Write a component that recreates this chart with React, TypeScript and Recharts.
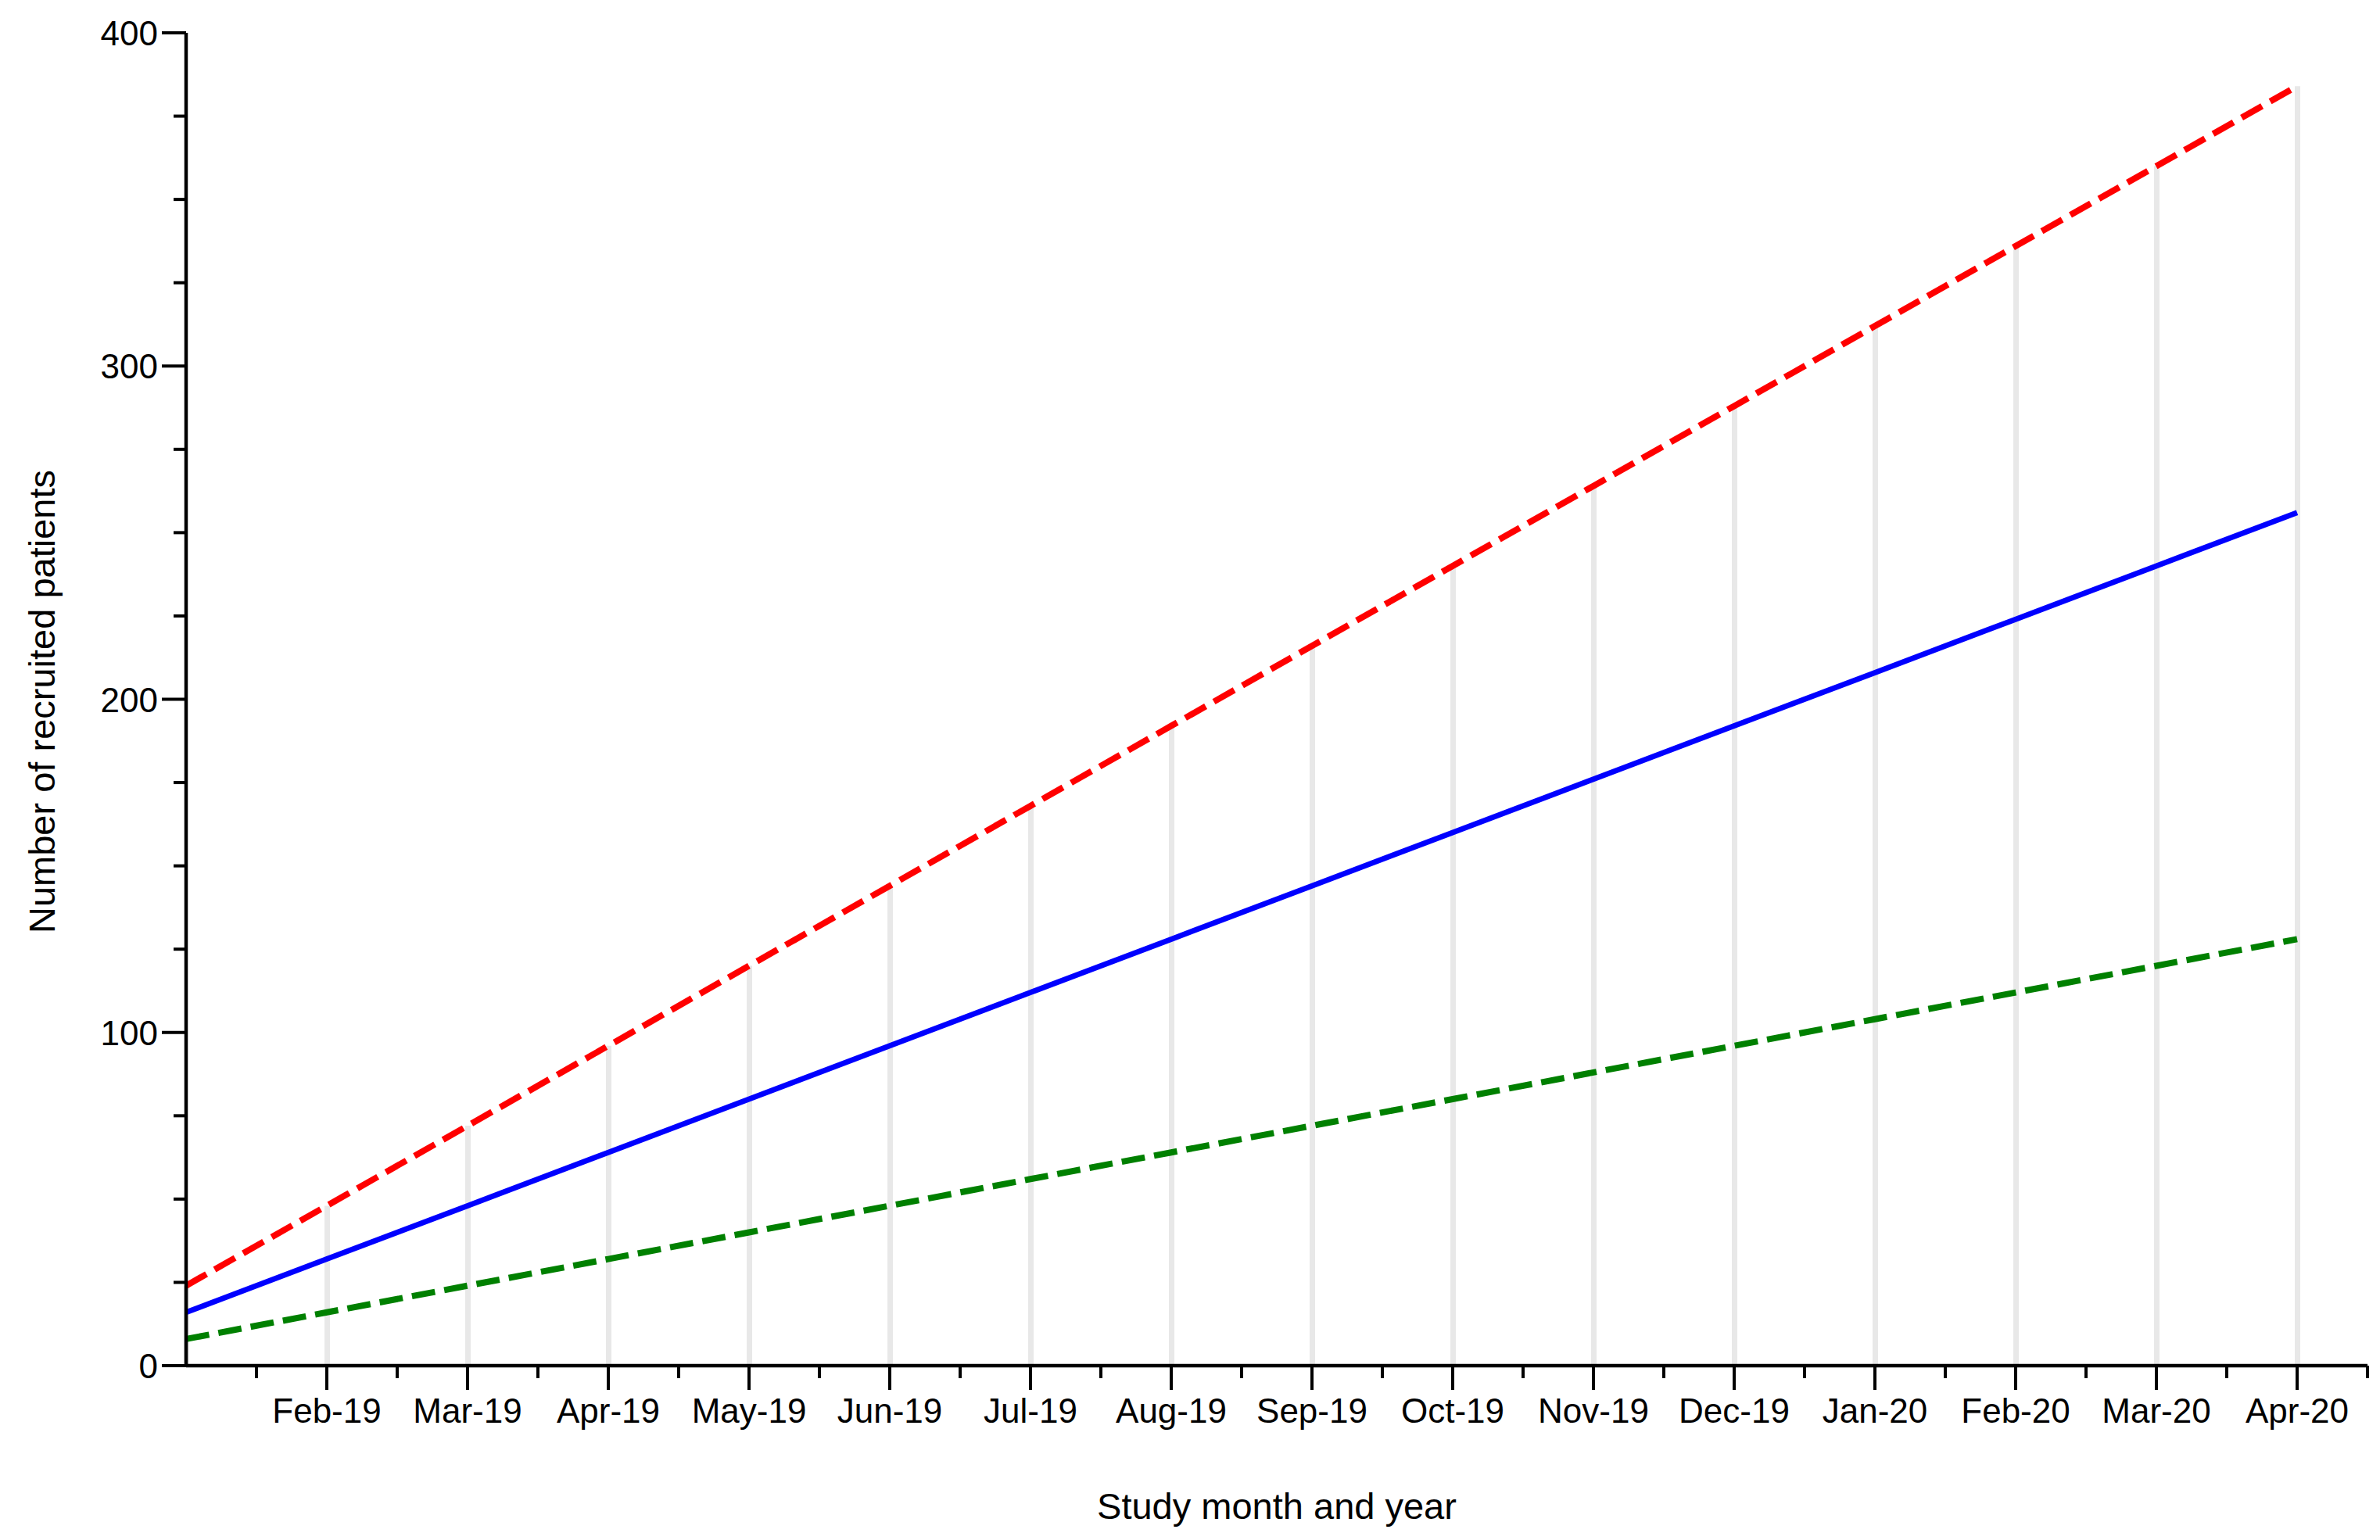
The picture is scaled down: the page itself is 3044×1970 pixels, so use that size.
import React from 'react';
import { ComposedChart, Line, Bar, XAxis, YAxis, Label } from 'recharts';

// month index 0 = Jan-19 (start of recruitment, no label on the axis)
const months = [
  'Jan-19', 'Feb-19', 'Mar-19', 'Apr-19', 'May-19', 'Jun-19', 'Jul-19', 'Aug-19',
  'Sep-19', 'Oct-19', 'Nov-19', 'Dec-19', 'Jan-20', 'Feb-20', 'Mar-20', 'Apr-20',
];
const upper = [24, 48, 72, 96, 120, 144, 168, 192, 216, 240, 264, 288, 312, 336, 360, 384];
const expected = [16, 32, 48, 64, 80, 96, 112, 128, 144, 160, 176, 192, 208, 224, 240, 256];
const lower = [8, 16, 24, 32, 40, 48, 56, 64, 72, 80, 88, 96, 104, 112, 120, 128];
const yTicks = [0, 25, 50, 75, 100, 125, 150, 175, 200, 225, 250, 275, 300, 325, 350, 375, 400];

const data = months.map((label, m) => ({
  m,
  label,
  upper: upper[m],
  expected: expected[m],
  lower: lower[m],
}));

const xTicks = months.flatMap((_, i) => [i, i + 0.5]);

const FONT = '"Liberation Sans", Arial, Helvetica, sans-serif';

const XTick = (props: any) => {
  const { x, y, payload } = props;
  const v = payload.value as number;
  if (v === 0) return null;
  const major = Number.isInteger(v);
  return (
    <g>
      <line x1={x} x2={x} y1={y} y2={y + (major ? 31 : 16)} stroke="#000" strokeWidth={4} />
      {major && (
        <text x={x} y={y + 73} textAnchor="middle" fontSize={44} fontFamily={FONT} fill="#000">
          {months[v]}
        </text>
      )}
    </g>
  );
};

const YTick = (props: any) => {
  const { x, y, payload } = props;
  const v = payload.value as number;
  const major = v % 100 === 0;
  const len = major ? 31 : 16;
  return (
    <g>
      <line x1={x - len} x2={x} y1={y} y2={y} stroke="#000" strokeWidth={4} />
      {major && (
        <text x={x - len - 5} y={y + 16} textAnchor="end" fontSize={44} fontFamily={FONT} fill="#000">
          {v}
        </text>
      )}
    </g>
  );
};

const XTitle = (props: any) => {
  const vb = props.viewBox;
  return (
    <text x={vb.x + vb.width / 2} y={vb.y + 196} textAnchor="middle" fontSize={47} fontFamily={FONT} fill="#000">
      Study month and year
    </text>
  );
};

const YTitle = (props: any) => {
  const vb = props.viewBox;
  const cx = vb.x + 70;
  const cy = vb.y + vb.height / 2 + 3;
  return (
    <text
      x={cx}
      y={cy}
      transform={`rotate(-90 ${cx} ${cy})`}
      textAnchor="middle"
      fontSize={47}
      fontFamily={FONT}
      fill="#000"
    >
      Number of recruited patients
    </text>
  );
};

export default function App() {
  return (
    <div style={{ position: 'absolute', left: 0, top: 0, background: '#fff' }}>
      <ComposedChart
        width={3044}
        height={1970}
        data={data}
        margin={{ top: 42, right: 16, bottom: 0, left: 0 }}
      >
        <XAxis
          type="number"
          dataKey="m"
          domain={[0, 15.5]}
          ticks={xTicks}
          interval={0}
          height={223}
          tickSize={0}
          tickMargin={0}
          tick={<XTick />}
          axisLine={{ stroke: '#000', strokeWidth: 4.5 }}
        >
          <Label content={<XTitle />} />
        </XAxis>
        <YAxis
          type="number"
          domain={[0, 400]}
          ticks={yTicks}
          interval={0}
          width={238}
          tickSize={0}
          tickMargin={0}
          tick={<YTick />}
          axisLine={{ stroke: '#000', strokeWidth: 4.5 }}
        >
          <Label content={<YTitle />} />
        </YAxis>
        <Bar dataKey="upper" barSize={7} fill="#e8e8e8" isAnimationActive={false} />
        <Line
          type="linear"
          dataKey="lower"
          stroke="#008000"
          strokeWidth={8}
          strokeDasharray="30 12"
          dot={false}
          activeDot={false}
          isAnimationActive={false}
        />
        <Line
          type="linear"
          dataKey="expected"
          stroke="#0000ff"
          strokeWidth={7}
          dot={false}
          activeDot={false}
          isAnimationActive={false}
        />
        <Line
          type="linear"
          dataKey="upper"
          stroke="#ff0000"
          strokeWidth={8}
          strokeDasharray="30 12"
          dot={false}
          activeDot={false}
          isAnimationActive={false}
        />
      </ComposedChart>
    </div>
  );
}
